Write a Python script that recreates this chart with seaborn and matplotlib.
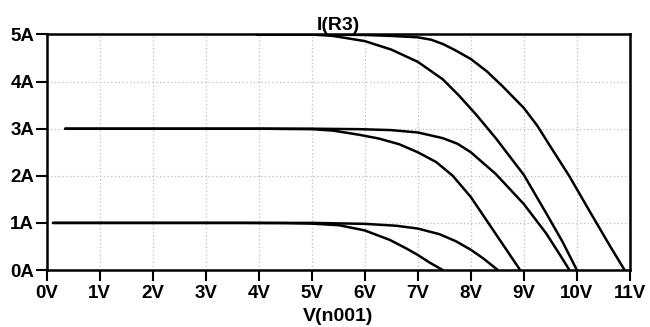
import matplotlib
matplotlib.use("Agg")
import matplotlib.pyplot as plt
import pandas as pd
import seaborn as sns

# I-V curves: V(n001) in volts, I(R3) in amps
v_5a_outer = [3.96, 5.0, 6.0, 6.5, 7.0, 7.25, 7.47, 7.7, 8.0, 8.3, 8.6, 9.0, 9.25, 9.48, 9.86, 10.24, 10.62, 10.9]
i_5a_outer = [5.0, 5.0, 4.99, 4.97, 4.94, 4.89, 4.80, 4.67, 4.48, 4.22, 3.9, 3.44, 3.07, 2.66, 1.99, 1.25, 0.52, 0.0]

v_5a_inner = [3.96, 5.0, 5.4, 6.0, 6.5, 7.0, 7.47, 7.78, 8.1, 8.47, 9.0, 9.42, 9.73, 10.0]
i_5a_inner = [5.0, 5.0, 4.97, 4.86, 4.68, 4.42, 4.05, 3.7, 3.3, 2.8, 2.02, 1.21, 0.6, 0.0]

v_3a_outer = [0.35, 4.0, 5.0, 5.9, 6.5, 7.0, 7.47, 7.75, 8.0, 8.47, 9.0, 9.42, 9.66, 9.86]
i_3a_outer = [3.0, 3.0, 3.0, 2.99, 2.97, 2.92, 2.8, 2.68, 2.5, 2.04, 1.4, 0.78, 0.36, 0.0]

v_3a_inner = [0.35, 4.0, 5.0, 5.4, 5.9, 6.27, 6.65, 7.0, 7.35, 7.66, 8.0, 8.3, 8.6, 8.93]
i_3a_inner = [3.0, 3.0, 2.99, 2.96, 2.87, 2.79, 2.67, 2.5, 2.29, 2.0, 1.55, 1.05, 0.55, 0.0]

v_1a_outer = [0.12, 4.0, 5.0, 6.0, 6.59, 7.0, 7.41, 7.72, 8.0, 8.23, 8.51]
i_1a_outer = [1.0, 1.0, 1.0, 0.98, 0.94, 0.88, 0.76, 0.61, 0.43, 0.25, 0.0]

v_1a_inner = [0.12, 3.7, 4.5, 5.0, 5.52, 6.0, 6.47, 6.78, 7.0, 7.22, 7.47]
i_1a_inner = [1.0, 1.0, 0.995, 0.985, 0.95, 0.84, 0.64, 0.46, 0.32, 0.16, 0.0]

x_ticks = list(range(12))
x_labels = [f"{v}V" for v in x_ticks]
y_ticks = list(range(6))
y_labels = [f"{a}A" for a in y_ticks]

curves = {
    "5a_outer": (v_5a_outer, i_5a_outer),
    "5a_inner": (v_5a_inner, i_5a_inner),
    "3a_outer": (v_3a_outer, i_3a_outer),
    "3a_inner": (v_3a_inner, i_3a_inner),
    "1a_outer": (v_1a_outer, i_1a_outer),
    "1a_inner": (v_1a_inner, i_1a_inner),
}
frames = []
for name, (v, i) in curves.items():
    frames.append(pd.DataFrame({"V": v, "I": i, "curve": name}))
df = pd.concat(frames, ignore_index=True)

sns.set_style("white")
plt.rcParams['font.family'] = ['Liberation Sans', 'DejaVu Sans']
plt.rcParams['font.weight'] = 'bold'
plt.rcParams['text.color'] = 'black'

fig, ax = plt.subplots(figsize=(6.5, 3.27), dpi=100)

sns.lineplot(data=df, x="V", y="I", units="curve", estimator=None, sort=False,
             color="black", linewidth=1.8, ax=ax)

ax.set_xlim(0, 11)
ax.set_ylim(0, 5)
ax.set_xticks(x_ticks)
ax.set_xticklabels(x_labels)
ax.set_yticks(y_ticks)
ax.set_yticklabels(y_labels)

ax.grid(True, color="#bdbdbd", linestyle=(0, (1, 2)), linewidth=0.9)
for s in ax.spines.values():
    s.set_color("black")
    s.set_linewidth(1.8)
ax.tick_params(bottom=True, left=True, direction="out", length=8, width=1.5,
               labelsize=13.5, colors="black")
ax.tick_params(axis="x", pad=2.5)
ax.tick_params(axis="y", pad=1)

ax.set_title("I(R3)", fontsize=14, fontweight="bold", color="black", pad=3)
ax.set_xlabel("V(n001)", fontsize=14, fontweight="bold", color="black", labelpad=4.5)
ax.set_ylabel("")

fig.subplots_adjust(left=0.0718, right=0.969, top=0.8945, bottom=0.1743)
fig.savefig("out.png", dpi=100)
